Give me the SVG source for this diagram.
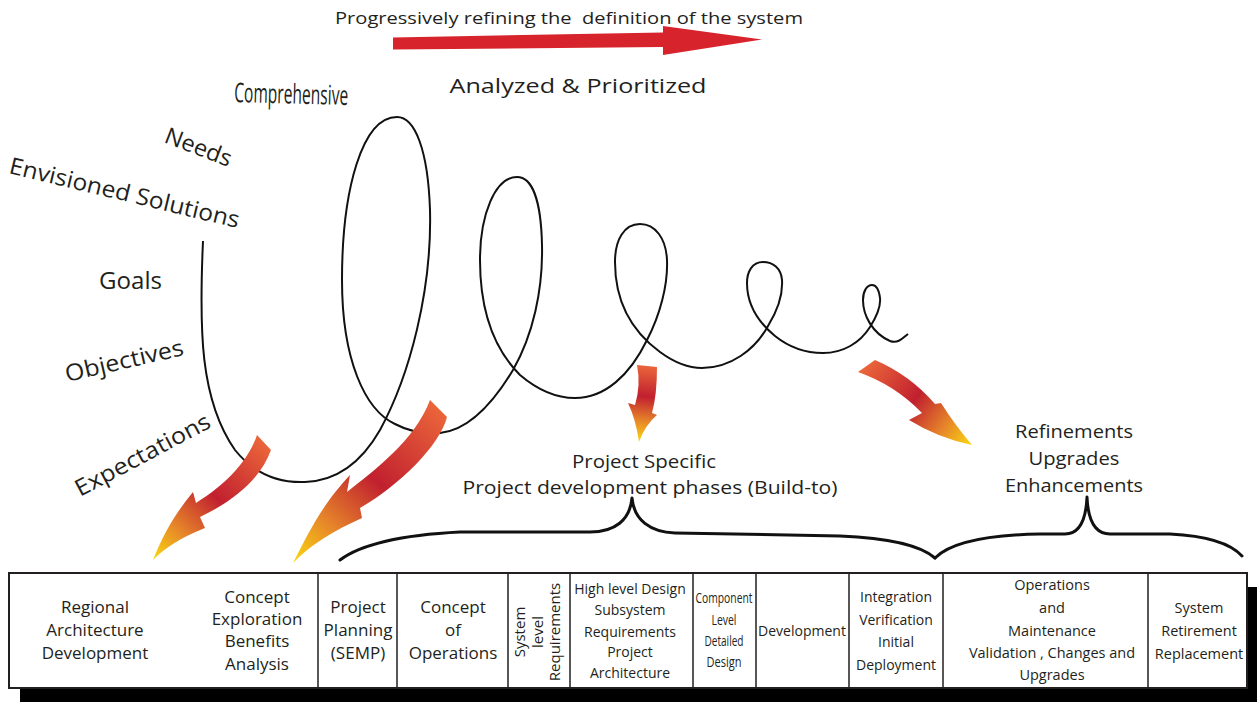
<svg xmlns="http://www.w3.org/2000/svg" width="1257" height="702" viewBox="0 0 1257 702">
  <style>
    text { font-family: "Open Sans", "Noto Sans", "DejaVu Sans", sans-serif; fill: #231f20; }
    .lbl { font-size: 23px; }
    .cell { text-anchor: middle; }
    .mid { text-anchor: middle; }
    .grid { fill: none; stroke: #231f20; stroke-width: 1.5; }
    .spiral { fill: none; stroke: #111; stroke-width: 2; }
    .brace { fill: none; stroke: #111; stroke-width: 3; stroke-linecap: round; stroke-linejoin: round; }
  </style>
  <defs>
    <linearGradient id="g1" gradientUnits="userSpaceOnUse" x1="264" y1="443" x2="153" y2="560">
      <stop offset="0" stop-color="#ea653a"/>
      <stop offset="0.45" stop-color="#c1202f"/>
      <stop offset="0.75" stop-color="#e6852a"/>
      <stop offset="1" stop-color="#fbd80f"/>
    </linearGradient>
    <linearGradient id="g2" gradientUnits="userSpaceOnUse" x1="438" y1="408" x2="293" y2="563">
      <stop offset="0" stop-color="#ea653a"/>
      <stop offset="0.45" stop-color="#c1202f"/>
      <stop offset="0.75" stop-color="#e6852a"/>
      <stop offset="1" stop-color="#fbd80f"/>
    </linearGradient>
    <linearGradient id="g3" gradientUnits="userSpaceOnUse" x1="647" y1="366" x2="639" y2="442">
      <stop offset="0" stop-color="#ea653a"/>
      <stop offset="0.4" stop-color="#c1202f"/>
      <stop offset="0.72" stop-color="#e6852a"/>
      <stop offset="1" stop-color="#fbd80f"/>
    </linearGradient>
    <linearGradient id="g4" gradientUnits="userSpaceOnUse" x1="866" y1="366" x2="972" y2="445">
      <stop offset="0" stop-color="#ea653a"/>
      <stop offset="0.45" stop-color="#c1202f"/>
      <stop offset="0.75" stop-color="#e6852a"/>
      <stop offset="1" stop-color="#fbd80f"/>
    </linearGradient>
  </defs>

  <rect width="1257" height="702" fill="#ffffff"/>

  <!-- Top banner -->
  <g id="banner">
    <text x="569" y="24" class="mid" font-size="17" xml:space="preserve" textLength="468" lengthAdjust="spacingAndGlyphs">Progressively refining the  definition of the system</text>
    <polygon points="393,37.5 663,32.5 663,26 762,39.5 663,55 663,47 393,49.5" fill="#d7232b"/>
    <text x="578" y="93" class="mid" font-size="20" textLength="257" lengthAdjust="spacingAndGlyphs">Analyzed &amp; Prioritized</text>
  </g>

  <!-- Left-hand labels -->
  <g id="labels">
    <text x="234" y="102" font-size="27" textLength="114" lengthAdjust="spacingAndGlyphs" transform="rotate(1.5 234 102)">Comprehensive</text>
    <text x="163" y="142" class="lbl" textLength="70" lengthAdjust="spacingAndGlyphs" transform="rotate(21 163 142)">Needs</text>
    <text x="8" y="173" class="lbl" textLength="236" lengthAdjust="spacingAndGlyphs" transform="rotate(13.5 8 173)">Envisioned Solutions</text>
    <text x="99" y="289" class="lbl" textLength="63" lengthAdjust="spacingAndGlyphs">Goals</text>
    <text x="67" y="382" class="lbl" textLength="121" lengthAdjust="spacingAndGlyphs" transform="rotate(-13 67 382)">Objectives</text>
    <text x="80" y="497" class="lbl" textLength="150" lengthAdjust="spacingAndGlyphs" transform="rotate(-28 80 497)">Expectations</text>
  </g>

  <!-- Narrowing spiral -->
  <g id="spiral">
    <path class="spiral" d="M203,241
      C199,330 200,400 235,450
      C255,475 280,483 305,482
      C335,481 360,465 380,430
      C410,375 432,290 430,210
      C428,150 415,117 397,117
      C362,117 342,190 342,280
      C342,360 365,410 395,424
      C410,432 425,434 440,433
      C470,430 495,400 513,370
      C533,335 543,290 542,245
      C541,200 532,177 517,177
      C495,177 480,215 480,260
      C480,320 500,355 520,375
      C540,392 558,398 575,398
      C605,398 630,375 647,340
      C660,315 668,285 667,260
      C666,238 655,224 640,224
      C624,224 615,240 615,262
      C615,300 630,330 660,352
      C675,363 688,368 702,368
      C730,368 755,350 768,326
      C778,310 783,295 782,280
      C781,268 773,262 763,262
      C752,262 747,272 747,283
      C747,305 758,322 775,336
      C790,348 805,353 823,353
      C843,353 860,343 870,327
      C877,316 881,307 880,298
      C879,290 876,285 872,285
      C867,285 863,291 863,300
      C863,315 872,333 890,341
      C898,344 903,338 908,334"/>
  </g>

  <!-- Curved gradient arrows -->
  <g id="arrows">
    <path fill="url(#g1)" d="M257,435 L271,450 C262,475 240,498 200,517 L205,528 C180,538 165,548 153,560 C165,530 178,510 193,492 L196,503 C225,485 248,462 257,435 Z"/>
    <path fill="url(#g2)" d="M430,400 L447,417 C440,445 400,485 360,508 L362,518 C335,530 310,545 293,563 C310,530 322,505 350,475 L347,492 C375,470 415,440 430,400 Z"/>
    <path fill="url(#g3)" d="M637,365 L657,367 Q657,395 652,413 L657,415 Q645,425 639,442 Q636,420 628,403 L635,405 Q641,385 637,365 Z"/>
    <path fill="url(#g4)" d="M875,360 Q910,375 935,404 L941,403 Q955,425 972,445 Q938,438 909,420 L922,413 Q895,385 858,372 Z"/>
  </g>

  <!-- Phase group captions and braces -->
  <g id="build-to">
    <text x="644" y="468" class="mid" font-size="19" textLength="144" lengthAdjust="spacingAndGlyphs">Project Specific</text>
    <text x="650" y="494" class="mid" font-size="19" textLength="375" lengthAdjust="spacingAndGlyphs">Project development phases (Build-to)</text>
    <path class="brace" d="M340,560 C360,545 400,535 460,532 L590,532 C615,532 630,520 632,498 C634,520 650,532 675,533 L840,536 C890,538 920,545 935,558"/>
  </g>
  <g id="upgrades">
    <text x="1074" y="438" class="mid" font-size="19" textLength="118" lengthAdjust="spacingAndGlyphs">Refinements</text>
    <text x="1074" y="465" class="mid" font-size="19" textLength="91" lengthAdjust="spacingAndGlyphs">Upgrades</text>
    <text x="1074" y="492" class="mid" font-size="19" textLength="138" lengthAdjust="spacingAndGlyphs">Enhancements</text>
    <path class="brace" d="M935,558 C950,543 985,535 1040,534 L1065,534 C1080,534 1086,520 1087,497 C1088,520 1095,534 1110,534 L1170,534 C1210,536 1232,545 1242,556"/>
  </g>

  <!-- Life-cycle phase table -->
  <g id="table">
    <rect x="20" y="587" width="1240" height="116" fill="#000"/>
    <rect x="9" y="573" width="1238" height="115" fill="#fff" stroke="#231f20" stroke-width="2"/>
    <path class="grid" d="M318,573 V688 M397,573 V688 M508,573 V688 M570,573 V688 M693,573 V688 M756,573 V688 M849,573 V688 M943,573 V688 M1148,573 V688"/>
  </g>

  <g id="cell-regional">
    <text class="cell" font-size="17" x="95" y="613">Regional</text>
    <text class="cell" font-size="17" x="95" y="636">Architecture</text>
    <text class="cell" font-size="17" x="95" y="659">Development</text>
  </g>
  <g id="cell-concept-exploration">
    <text class="cell" font-size="17" x="257" y="603">Concept</text>
    <text class="cell" font-size="17" x="257" y="625">Exploration</text>
    <text class="cell" font-size="17" x="257" y="647">Benefits</text>
    <text class="cell" font-size="17" x="257" y="670">Analysis</text>
  </g>
  <g id="cell-planning">
    <text class="cell" font-size="17" x="358" y="613">Project</text>
    <text class="cell" font-size="17" x="358" y="636">Planning</text>
    <text class="cell" font-size="17" x="358" y="659">(SEMP)</text>
  </g>
  <g id="cell-conops">
    <text class="cell" font-size="17" x="453" y="613">Concept</text>
    <text class="cell" font-size="17" x="453" y="636">of</text>
    <text class="cell" font-size="17" x="453" y="659">Operations</text>
  </g>
  <g id="cell-system-req">
    <text class="cell" font-size="15" x="0" y="0" transform="translate(525 632) rotate(-90)">System</text>
    <text class="cell" font-size="15" x="0" y="0" transform="translate(543 632) rotate(-90)">level</text>
    <text class="cell" font-size="15" x="0" y="0" transform="translate(560 632) rotate(-90)">Requirements</text>
  </g>
  <g id="cell-high-level">
    <text class="cell" font-size="14" x="630" y="594">High level Design</text>
    <text class="cell" font-size="14" x="630" y="615">Subsystem</text>
    <text class="cell" font-size="14" x="630" y="637">Requirements</text>
    <text class="cell" font-size="14" x="630" y="657">Project</text>
    <text class="cell" font-size="14" x="630" y="678">Architecture</text>
  </g>
  <g id="cell-component">
    <text class="cell" font-size="15" x="724" y="603" textLength="57" lengthAdjust="spacingAndGlyphs">Component</text>
    <text class="cell" font-size="15" x="724" y="625" textLength="25" lengthAdjust="spacingAndGlyphs">Level</text>
    <text class="cell" font-size="15" x="724" y="646" textLength="39" lengthAdjust="spacingAndGlyphs">Detailed</text>
    <text class="cell" font-size="15" x="724" y="667" textLength="35" lengthAdjust="spacingAndGlyphs">Design</text>
  </g>
  <g id="cell-development">
    <text class="cell" font-size="14" x="802" y="636">Development</text>
  </g>
  <g id="cell-integration">
    <text class="cell" font-size="14" x="896" y="602">Integration</text>
    <text class="cell" font-size="14" x="896" y="625">Verification</text>
    <text class="cell" font-size="14" x="896" y="647">Initial</text>
    <text class="cell" font-size="14" x="896" y="670">Deployment</text>
  </g>
  <g id="cell-operations">
    <text class="cell" font-size="14.5" x="1052" y="590">Operations</text>
    <text class="cell" font-size="14.5" x="1052" y="613">and</text>
    <text class="cell" font-size="14.5" x="1052" y="636">Maintenance</text>
    <text class="cell" font-size="14.5" x="1052" y="658">Validation , Changes and</text>
    <text class="cell" font-size="14.5" x="1052" y="680">Upgrades</text>
  </g>
  <g id="cell-retirement">
    <text class="cell" font-size="14.5" x="1199" y="613">System</text>
    <text class="cell" font-size="14.5" x="1199" y="636">Retirement</text>
    <text class="cell" font-size="14.5" x="1199" y="659">Replacement</text>
  </g>
</svg>
